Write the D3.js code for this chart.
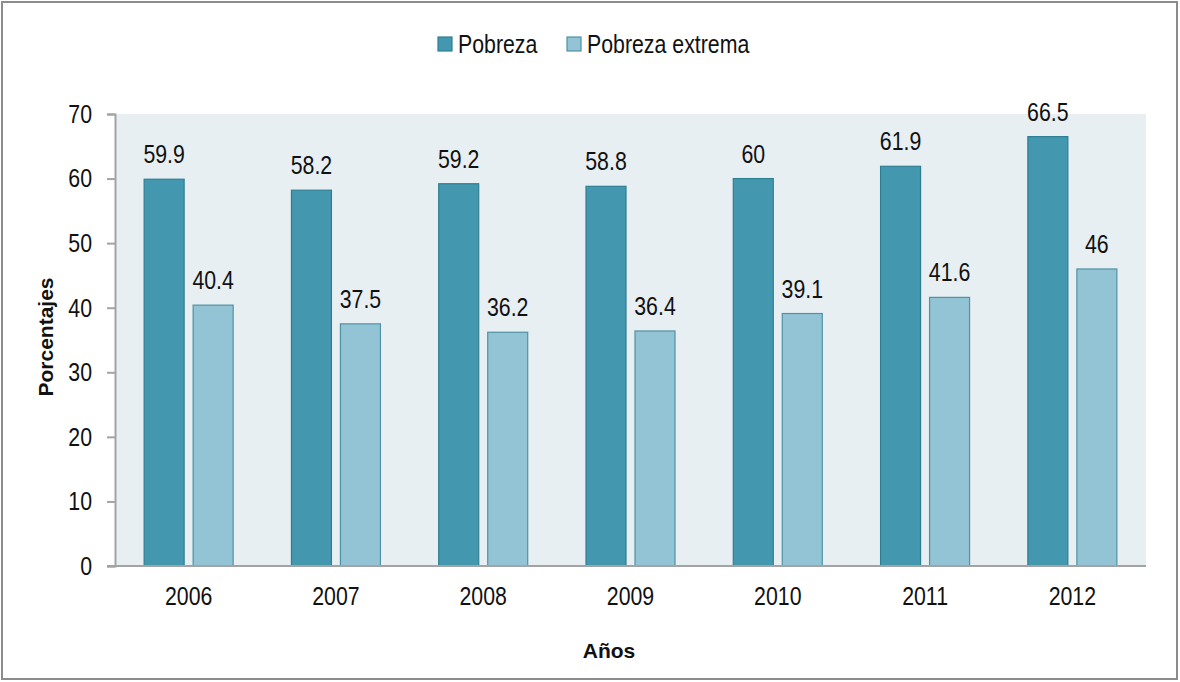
<!DOCTYPE html>
<html>
<head>
<meta charset="utf-8">
<script src="https://cdn.jsdelivr.net/npm/d3@7"></script>
<style>
  body { margin: 0; background: #fff; }
  svg text { font-family: "Liberation Sans", Arial, sans-serif; fill: #111; }
</style>
</head>
<body>
<div id="chart"></div>
<script>
// Data
const years = ["2006", "2007", "2008", "2009", "2010", "2011", "2012"];
const pobreza = [59.9, 58.2, 59.2, 58.8, 60, 61.9, 66.5];
const extrema = [40.4, 37.5, 36.2, 36.4, 39.1, 41.6, 46];
const seriesNames = ["Pobreza", "Pobreza extrema"];
const yTicks = [0, 10, 20, 30, 40, 50, 60, 70];

const width = 1180, height = 682;
const margin = { top: 114, right: 34, bottom: 116, left: 115 };
const chartWidth = width - margin.left - margin.right;
const chartHeight = height - margin.top - margin.bottom;

const fills = ["#4397ae", "#93c4d5"];
const strokes = ["#2f7f93", "#4f92a4"];

// no narrow font installed: squeeze regular text horizontally
function narrow(sel) {
    sel.each(function () {
        const t = d3.select(this);
        const tx = +t.attr("x") || 0, ty = +t.attr("y") || 0;
        t.attr("transform", `translate(${tx},${ty}) scale(0.82,1)`)
            .attr("x", 0).attr("y", 0);
    });
}

const svg = d3.select("#chart").append("svg")
    .attr("width", width)
    .attr("height", height);

// outer frame
svg.append("rect")
    .attr("x", 2).attr("y", 2)
    .attr("width", width - 5).attr("height", height - 5)
    .attr("fill", "none")
    .attr("stroke", "#8c8c8c")
    .attr("stroke-width", 2);

const chart = svg.append("g")
    .attr("transform", `translate(${margin.left},${margin.top})`);

const x = d3.scaleBand()
    .domain(years)
    .range([0, chartWidth]);

const y = d3.scaleLinear()
    .domain([0, 70])
    .range([chartHeight, 0]);

// plot background
chart.append("rect")
    .attr("x", 0).attr("y", 0)
    .attr("width", chartWidth).attr("height", chartHeight)
    .attr("fill", "#e8eff3");

const barW = 40, gap = 9;
const series = [pobreza, extrema];

series.forEach((vals, s) => {
    const offset = s === 0 ? -(barW + gap / 2) : gap / 2;
    chart.selectAll(".bar" + s)
        .data(vals)
        .enter().append("rect")
        .attr("class", "bar" + s)
        .attr("x", (d, i) => x(years[i]) + x.bandwidth() / 2 + offset)
        .attr("width", barW)
        .attr("y", d => y(d))
        .attr("height", d => chartHeight - y(d))
        .attr("fill", fills[s])
        .attr("stroke", strokes[s])
        .attr("stroke-width", 1.2);

    chart.selectAll(".label" + s)
        .data(vals)
        .enter().append("text")
        .attr("class", "label" + s)
        .attr("x", (d, i) => x(years[i]) + x.bandwidth() / 2 + offset + barW / 2)
        .attr("y", d => y(d) - 16)
        .attr("text-anchor", "middle")
        .style("font-size", "26px")
        .text(d => d)
        .call(narrow);
});

// y axis
const yAxis = chart.append("g")
    .call(d3.axisLeft(y).tickValues(yTicks).tickSize(8).tickPadding(15));
yAxis.selectAll("path, line").attr("stroke", "#a3a3a3").attr("stroke-width", 2);
yAxis.selectAll("text").style("font-size", "26px").attr("fill", "#111").call(narrow);

// x axis
const xAxis = chart.append("g")
    .attr("transform", `translate(0,${chartHeight})`)
    .call(d3.axisBottom(x).tickSize(0).tickPadding(21));
xAxis.select("path").attr("stroke", "#a3a3a3").attr("stroke-width", 2)
    .attr("d", `M-8,0H${chartWidth}`);
xAxis.selectAll("text").style("font-size", "26px").attr("fill", "#111").call(narrow);

// axis titles
svg.append("text")
    .attr("transform", "translate(53,337) rotate(-90)")
    .attr("text-anchor", "middle")
    .style("font-size", "21px")
    .style("font-weight", "bold")
    .text("Porcentajes");

svg.append("text")
    .attr("x", 609)
    .attr("y", 658)
    .attr("text-anchor", "middle")
    .style("font-size", "21px")
    .style("font-weight", "bold")
    .text("Años");

// legend
const legendX = [438, 567];
const legend = svg.append("g");
seriesNames.forEach((name, s) => {
    legend.append("rect")
        .attr("x", legendX[s]).attr("y", 37)
        .attr("width", 14).attr("height", 14)
        .attr("fill", fills[s])
        .attr("stroke", strokes[s])
        .attr("stroke-width", 1.2);
    legend.append("text")
        .attr("x", legendX[s] + 20)
        .attr("y", 53)
        .style("font-size", "26px")
        .text(name)
        .call(narrow);
});
</script>
</body>
</html>
